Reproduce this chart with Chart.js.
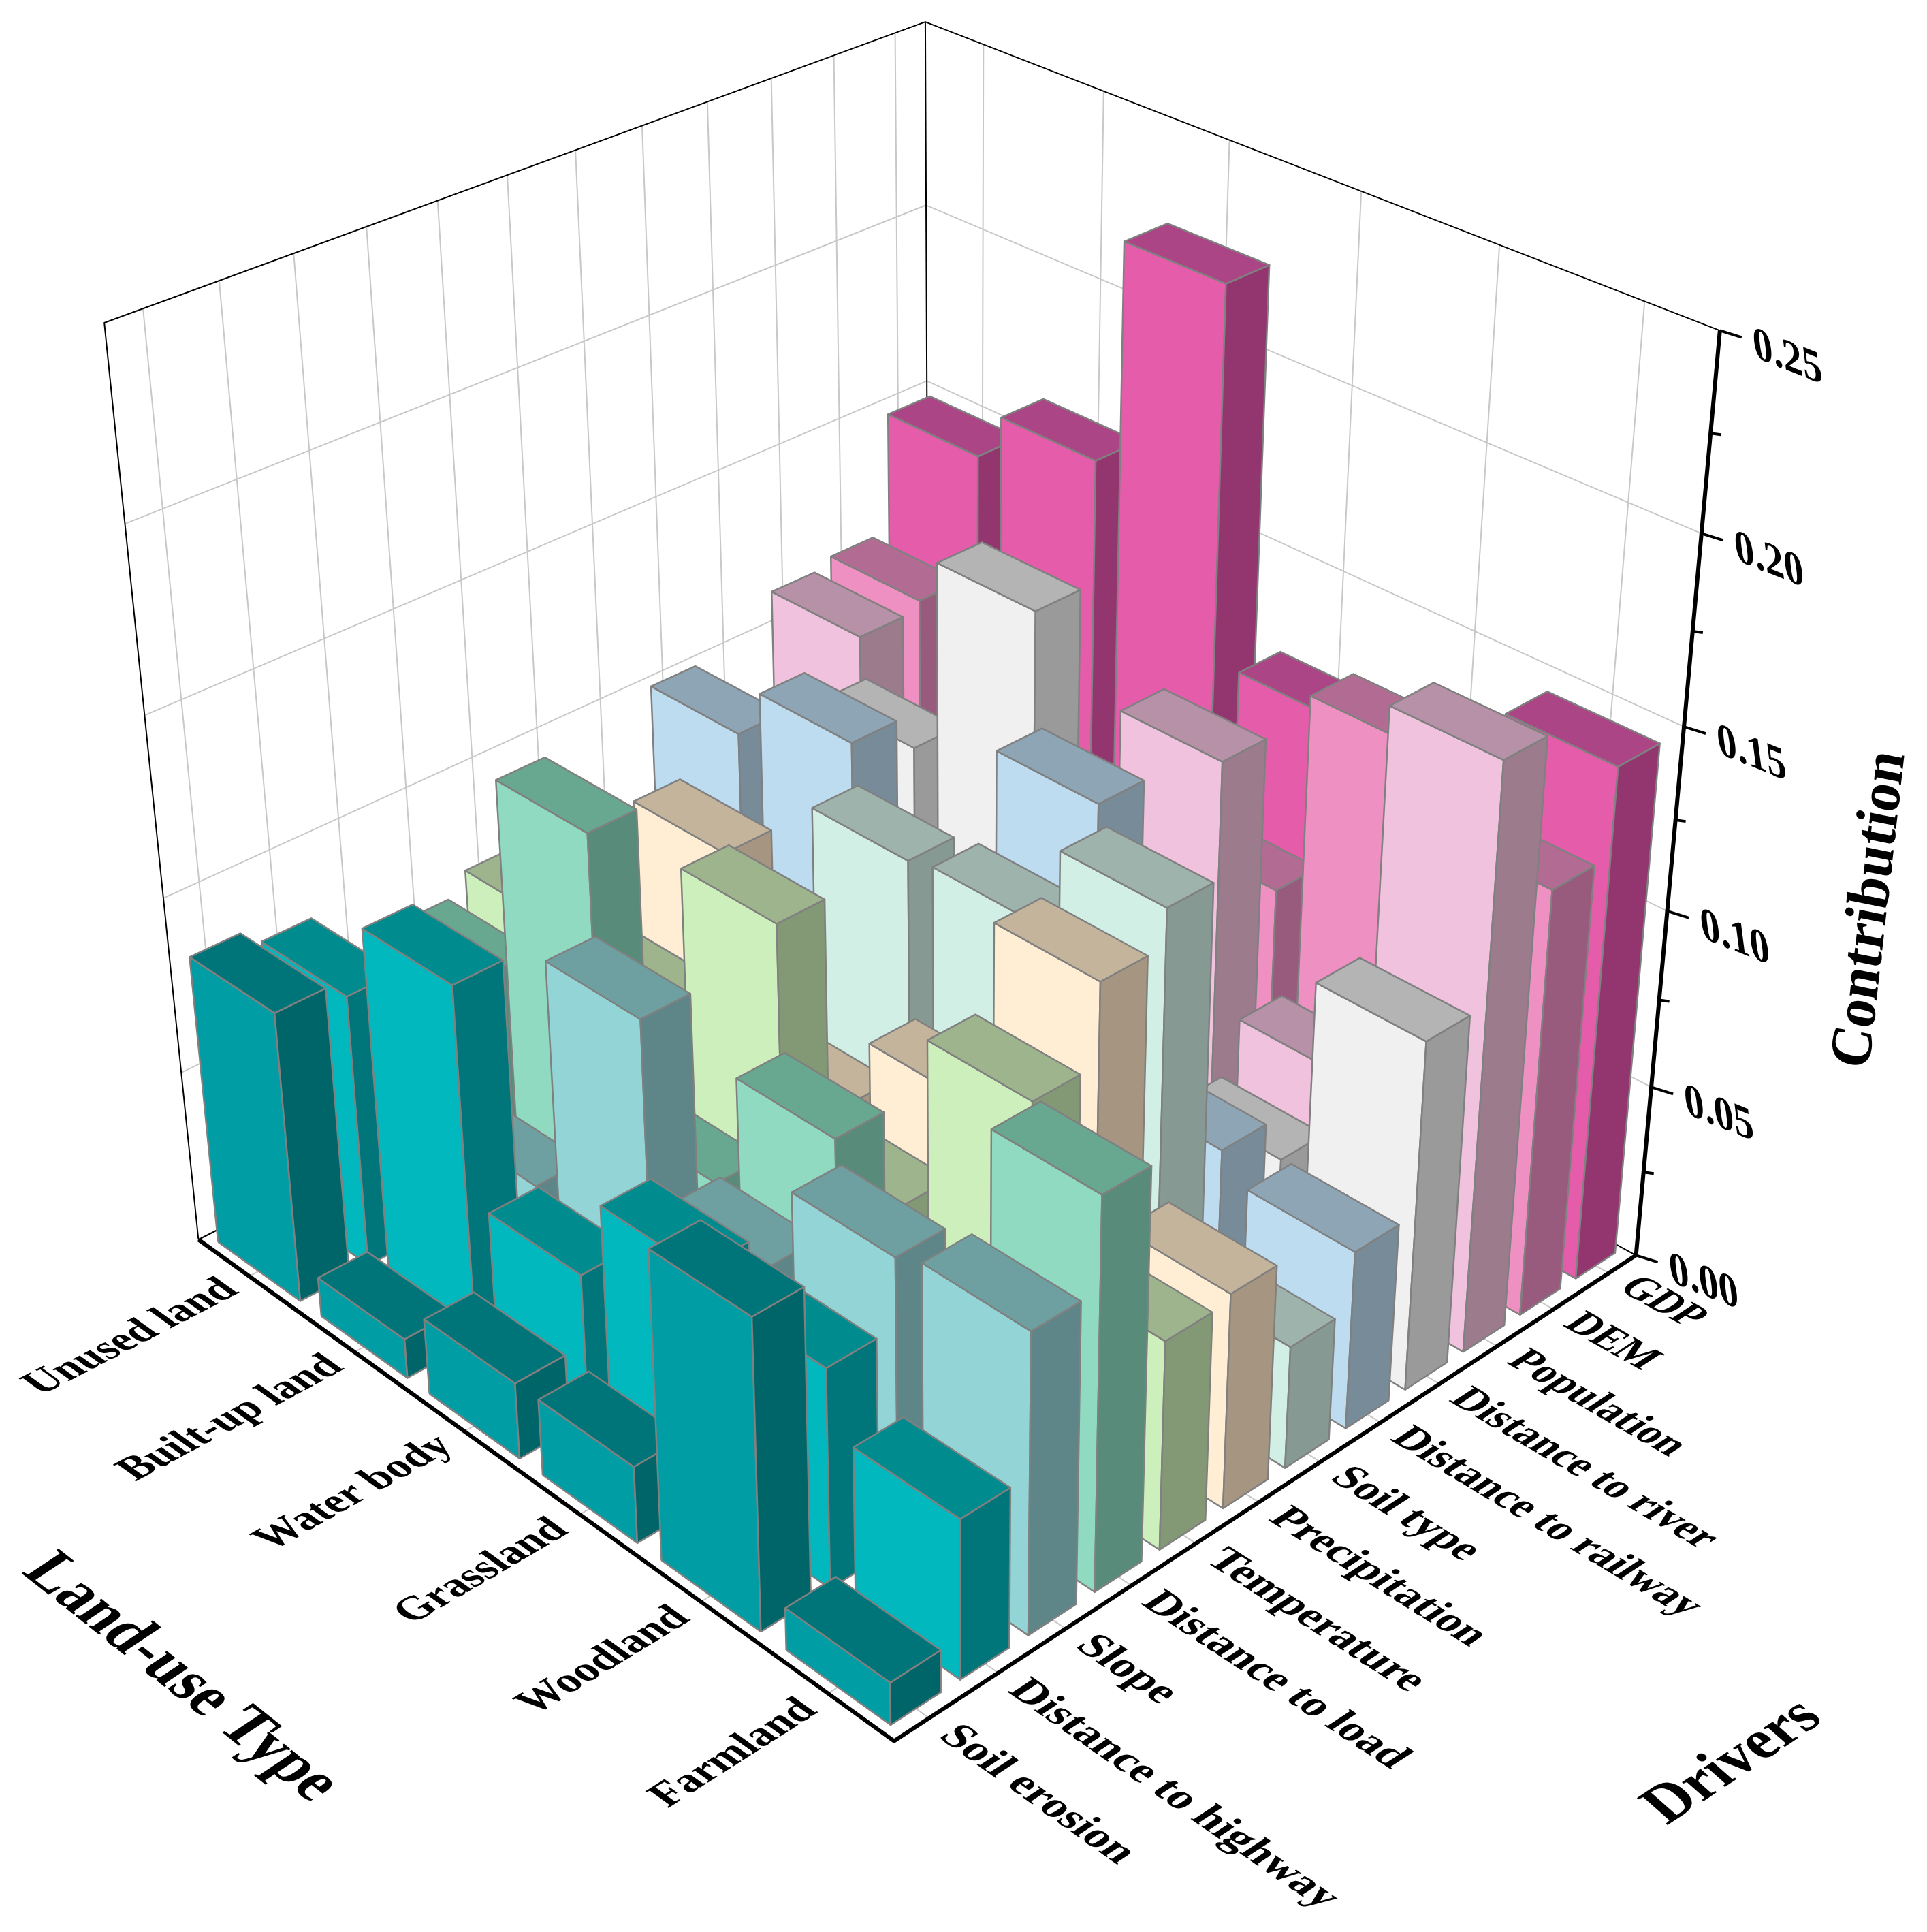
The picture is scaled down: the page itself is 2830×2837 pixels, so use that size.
<!DOCTYPE html>
<html>
<head>
<meta charset="utf-8">
<title>Contribution of drivers by land-use type</title>
<script src="https://cdn.jsdelivr.net/npm/chart.js"></script>
<style>
    html, body { margin: 0; background: #fff; }
    canvas { display: block; }
</style>
</head>
<body>
<canvas id="chart" width="2830" height="2837"></canvas>
<script>
const landUse = ["Unused land", "Built-up land", "Water body", "Grassland", "Woodland", "Farmland"];
const drivers = ["Soil erosion", "Distance to highway", "Slope", "Distance to load", "Temperature", "Precipitation",
    "Soil type", "Distance to railway", "Distance to river", "Population", "DEM", "GDP"];
const zTicks = [0, 0.05, 0.1, 0.15, 0.2, 0.25];
const zMinorTicks = [0.025, 0.075, 0.125, 0.175, 0.225];

// one array per land-use type, same order as drivers
const unusedLand = [0.084, 0.079, 0.05, 0.066, 0.072, 0.05, 0.04, 0.1, 0.08, 0.1115, 0.114, 0.148];
const builtUpLand = [0.0115, 0.102, 0.035, 0.125, 0.069, 0.1015, 0.07, 0.115, 0.105, 0.05, 0.07, 0.162];
const waterBody = [0.022, 0.042, 0.103, 0.047, 0.11, 0.049, 0.109, 0.065, 0.16, 0.06, 0.07, 0.224];
const grassland = [0.022, 0.066, 0.056, 0.081, 0.052, 0.071, 0.111, 0.134, 0.05, 0.128, 0.083, 0.122];
const woodland = [0.087, 0.062, 0.081, 0.03, 0.102, 0.124, 0.134, 0.058, 0.045, 0.059, 0.141, 0.03];
const farmland = [0.012, 0.045, 0.084, 0.109, 0.059, 0.061, 0.035, 0.051, 0.099, 0.164, 0.121, 0.145];
const series = [unusedLand, builtUpLand, waterBody, grassland, woodland, farmland];

const frontColors = ["#009DA5", "#00B8BE", "#93D4D6", "#8FDAC1", "#CDEFBB", "#FFEED3", "#D1EFE5", "#BDDCF0", "#F0F0F0", "#F1C2DD", "#EE90C2", "#E55CAB"];
const topColors = ["#007579", "#008C8F", "#6EA0A2", "#68A891", "#9DB48C", "#C5B49C", "#9DB3AC", "#8EA5B5", "#B4B4B4", "#B691A7", "#B26C93", "#AB4585"];
const sideColors = ["#006568", "#00757A", "#5E8688", "#588B79", "#839875", "#A69681", "#869993", "#778B99", "#9A9A9A", "#9B7B8C", "#985B7D", "#93366F"];

const zMax = 0.25;
const barU = 0.8;
const barV = 0.72;

// box corners as seen in the picture: u = land use, v = drivers, w = height, all 0..1
const calib = [
    [0, 0, 0, 291, 1820], [1, 0, 0, 1313, 2557], [1, 1, 0, 2402, 1842],
    [0, 0, 1, 154, 474], [0, 1, 1, 1358, 31], [1, 1, 1, 2525, 484],
    [1, 1, 0.8, 2498, 785], [1, 1, 0.6, 2474, 1067], [1, 1, 0.4, 2450, 1339], [1, 1, 0.2, 2425, 1596],
    [0, 1, 0.8, 1360, 301], [0, 1, 0.6, 1362, 561], [0, 0, 0.2, 266, 1575],
];

function solveCamera() {
    const n = 11;
    const A = Array.from({ length: n }, () => new Array(n + 1).fill(0));
    const addRow = (r, b) => {
        for (let i = 0; i < n; i++) {
            for (let j = 0; j < n; j++) A[i][j] += r[i] * r[j];
            A[i][n] += r[i] * b;
        }
    };
    calib.forEach(([u, v, w, px, py]) => {
        const x = px / 1000, y = py / 1000;
        addRow([u, v, w, 1, 0, 0, 0, 0, -x * u, -x * v, -x * w], x);
        addRow([0, 0, 0, 0, u, v, w, 1, -y * u, -y * v, -y * w], y);
    });
    for (let c = 0; c < n; c++) {
        let best = c;
        for (let r = c + 1; r < n; r++) if (Math.abs(A[r][c]) > Math.abs(A[best][c])) best = r;
        [A[c], A[best]] = [A[best], A[c]];
        for (let r = 0; r < n; r++) {
            if (r === c) continue;
            const f = A[r][c] / A[c][c];
            for (let k = c; k <= n; k++) A[r][k] -= f * A[c][k];
        }
    }
    return A.map((row, i) => row[n] / row[i]);
}
const cam = solveCamera();

function project(u, v, w) {
    const d = cam[8] * u + cam[9] * v + cam[10] * w + 1;
    return {
        x: 1000 * (cam[0] * u + cam[1] * v + cam[2] * w + cam[3]) / d,
        y: 1000 * (cam[4] * u + cam[5] * v + cam[6] * w + cam[7]) / d,
    };
}

const datasets = [];
function addPath(points, opts) {
    datasets.push({
        data: points.map(p => project(p[0], p[1], p[2])),
        showLine: true,
        pointRadius: 0,
        tension: 0,
        clip: false,
        fill: opts.fill ? "shape" : false,
        backgroundColor: opts.fill || "transparent",
        borderColor: opts.color,
        borderWidth: opts.width,
        borderJoinStyle: "round",
        order: -datasets.length,
    });
}

// walls and floor
const gridColor = "#C8C8C8";
const uMid = landUse.map((_, i) => (i + 0.5) / landUse.length);
const vMid = drivers.map((_, i) => (i + 0.5) / drivers.length);
vMid.forEach(v => {
    addPath([[0, v, 0], [0, v, 1]], { color: gridColor, width: 2 });
    addPath([[0, v, 0], [1, v, 0]], { color: gridColor, width: 2 });
});
uMid.forEach(u => {
    addPath([[u, 1, 0], [u, 1, 1]], { color: gridColor, width: 2 });
    addPath([[u, 0, 0], [u, 1, 0]], { color: gridColor, width: 2 });
});
zTicks.slice(1, -1).forEach(t => {
    const w = t / zMax;
    addPath([[0, 0, w], [0, 1, w], [1, 1, w]], { color: gridColor, width: 2 });
});
addPath([[0, 0, 0], [0, 0, 1], [0, 1, 1], [1, 1, 1]], { color: "#000", width: 2 });
addPath([[0, 1, 1], [0, 1, 0]], { color: "#000", width: 2 });
addPath([[0, 0, 0], [0, 1, 0], [1, 1, 0]], { color: "#000", width: 2 });

// bars, back to front
series.forEach((values, i) => {
    for (let j = drivers.length - 1; j >= 0; j--) {
        const u0 = (i + 0.5 - barU / 2) / landUse.length, u1 = (i + 0.5 + barU / 2) / landUse.length;
        const v0 = (j + 0.5 - barV / 2) / drivers.length, v1 = (j + 0.5 + barV / 2) / drivers.length;
        const w = values[j] / zMax;
        const edge = "#808080";
        addPath([[u0, v0, 0], [u1, v0, 0], [u1, v0, w], [u0, v0, w], [u0, v0, 0]], { fill: frontColors[j], color: edge, width: 2.5 });
        addPath([[u1, v0, 0], [u1, v1, 0], [u1, v1, w], [u1, v0, w], [u1, v0, 0]], { fill: sideColors[j], color: edge, width: 2.5 });
        addPath([[u0, v0, w], [u1, v0, w], [u1, v1, w], [u0, v1, w], [u0, v0, w]], { fill: topColors[j], color: edge, width: 2.5 });
    }
});

// heavy axes
addPath([[0, 0, 0], [1, 0, 0], [1, 1, 0], [1, 1, 1]], { color: "#000", width: 6 });

function unit(a, b, s) {
    const d = Math.hypot(b.x - a.x, b.y - a.y);
    return { x: s * (b.x - a.x) / d, y: s * (b.y - a.y) / d };
}

const serif = "'Liberation Serif', 'Times New Roman', serif";
function drawText(ctx, text, at, e1, e2, font, align) {
    ctx.save();
    ctx.font = font;
    ctx.fillStyle = "#000";
    ctx.textAlign = align;
    ctx.textBaseline = "middle";
    ctx.setTransform(e1.x, e1.y, e2.x, e2.y, at.x, at.y);
    ctx.fillText(text, 0, 0);
    ctx.restore();
}

const labelPlugin = {
    id: "boxLabels",
    afterDraw(chart) {
        const ctx = chart.ctx;
        // z ticks
        ctx.strokeStyle = "#000";
        ctx.lineCap = "butt";
        zTicks.forEach(t => {
            const p = project(1, 1, t / zMax);
            ctx.lineWidth = 4;
            ctx.beginPath();
            ctx.moveTo(p.x, p.y);
            ctx.lineTo(p.x + 32, p.y + 10);
            ctx.stroke();
            drawText(ctx, t.toFixed(2), { x: p.x + 49, y: p.y + 21 }, { x: 1, y: 0.4 }, { x: 0.15, y: 1.2 }, "bold 58px " + serif, "left");
        });
        zMinorTicks.forEach(t => {
            const p = project(1, 1, t / zMax);
            ctx.lineWidth = 4;
            ctx.beginPath();
            ctx.moveTo(p.x, p.y);
            ctx.lineTo(p.x + 15, p.y + 2);
            ctx.stroke();
        });
        // land-use labels lie on the floor, running along v
        landUse.forEach((name, i) => {
            const u = uMid[i];
            const at = project(u, -0.022, 0);
            const e1 = unit(project(u, 0, 0), project(u, 1, 0), 1.06);
            const e2 = unit(project(0, 0, 0), project(1, 0, 0), 1.1);
            drawText(ctx, name, at, e1, e2, "bold 58px " + serif, "right");
        });
        // driver labels, running along u
        drivers.forEach((name, j) => {
            const v = vMid[j];
            const at = project(1.022, v, 0);
            const e1 = unit(project(0, v, 0), project(1, v, 0), 1.13 - 0.17 * v * v);
            const e2 = unit(project(1, 1, 0), project(1, 0, 0), 1.1);
            drawText(ctx, name, at, e1, e2, "bold 58px " + serif, "left");
        });
        // titles
        drawText(ctx, "Land-use Type", { x: 52, y: 2295 }, { x: 0.73, y: 0.58 }, { x: -0.9, y: 0.6 }, "bold 92px " + serif, "left");
        drawText(ctx, "Drivers", { x: 2430, y: 2665 }, { x: 0.78, y: -0.52 }, { x: 0.75, y: 0.66 }, "bold 92px " + serif, "left");
        drawText(ctx, "Contribution", { x: 2722, y: 1568 }, { x: 0.12, y: -1.06 }, { x: 1.1, y: 0.22 }, "bold 78px " + serif, "left");
    },
};

new Chart(document.getElementById("chart"), {
    type: "scatter",
    data: { datasets },
    options: {
        responsive: false,
        animation: false,
        devicePixelRatio: 1,
        layout: { padding: 0 },
        plugins: { legend: { display: false }, tooltip: { enabled: false } },
        scales: {
            x: { type: "linear", min: 0, max: 2830, display: false },
            y: { type: "linear", min: 0, max: 2837, reverse: true, display: false },
        },
    },
    plugins: [labelPlugin],
});
</script>
</body>
</html>
